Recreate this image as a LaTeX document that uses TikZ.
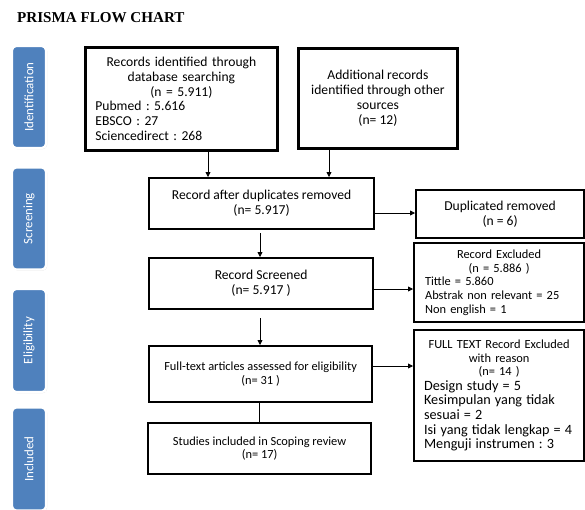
\documentclass[tikz,border=0pt]{standalone}
\usepackage{fontspec}
\setmainfont{Carlito}
\newfontfamily\titlefont{Liberation Serif}
\usetikzlibrary{arrows.meta,shadows}
\definecolor{barblue}{HTML}{4F81BD}
\frenchspacing
\begin{document}
\begin{tikzpicture}[x=1pt,y=-1pt,
  box/.style={draw=black, line width=2.2pt, rectangle, anchor=north west, inner sep=0pt, align=center},
  bodyf/.style={font=\frenchspacing\fontsize{13.6}{14.8}\selectfont},
  smallf/.style={font=\frenchspacing\fontsize{12.4}{13.6}\selectfont},
  bar/.style={rectangle, rounded corners=4pt, fill=barblue, draw=white, line width=2.4pt,
    rotate=90, minimum height=34pt, text=white, inner sep=0pt,
    font=\fontsize{12.9}{14}\selectfont,
    drop shadow={opacity=0.3, shadow xshift=1pt, shadow yshift=-1pt}},
  arr/.style={draw=black, line width=0.8pt, -{Triangle[length=5pt,width=5pt]}},
  ln/.style={draw=black, line width=0.8pt}
]
\useasboundingbox (0,0) rectangle (585,509);

% title
\node[anchor=west, inner sep=0pt, font=\titlefont\bfseries\fontsize{15.1}{16}\selectfont] (title) at (17,18) {PRISMA FLOW CHART};

% side bars
\node[bar, minimum width=102pt] (sid) at (29,97) {Identification};
\node[bar, minimum width=102pt] (sscr) at (29,218.5) {Screening};
\node[bar, minimum width=103pt] (selig) at (29,340.5) {Eligibility};
\node[bar, minimum width=103pt] (sincl) at (29,459) {Included};

% boxes
\node[box, line width=2.8pt, bodyf, minimum width=192pt, minimum height=103pt, text width=172pt, align=left] (ident) at (84,46)
  {{\centering Records identified through\\ database searching\\ (n = 5.911)\par}
   Pubmed : 5.616\\ EBSCO : 27\\ Sciencedirect : 268};
\node[box, line width=2.8pt, bodyf, minimum width=159pt, minimum height=100pt] (addl) at (297,47)
  {Additional records\\ identified through other\\ sources\\ (n= 12)};
\node[box, bodyf, minimum width=225pt, minimum height=51pt] (dup) at (148,177)
  {Record after duplicates removed\\ (n= 5.917)};
\node[box, bodyf, minimum width=168pt, minimum height=48pt] (duprem) at (415,189)
  {Duplicated removed\\ (n = 6)};
\node[box, bodyf, minimum width=224pt, minimum height=51pt] (scr) at (148,257)
  {Record Screened\\ (n= 5.917 )};
\node[box, smallf, minimum width=170pt, minimum height=79pt, text width=148pt, align=left] (exc) at (413,242)
  {{\centering Record Excluded\\ (n = 5.886 )\par}
   Tittle = 5.860\\ Abstrak non relevant = 25\\ Non english = 1};
\node[box, smallf, minimum width=223pt, minimum height=56pt] (full) at (148,345)
  {Full-text articles assessed for eligibility\\ (n= 31 )};
\node[box, smallf, minimum width=170pt, minimum height=131pt, text width=150pt, align=left] (ftexc) at (413,329)
  {{\centering FULL TEXT Record Excluded\\ with reason\\ (n= 14 )\par}
   {\fontsize{14.2}{14.6}\selectfont Design study = 5\\ Kesimpulan yang tidak\\ sesuai = 2\\ Isi yang tidak lengkap = 4\\ Menguji instrumen : 3\par}};
\node[box, smallf, minimum width=223pt, minimum height=51pt] (incl) at (147,422)
  {Studies included in Scoping review\\ (n= 17)};

% connectors
\draw[arr] (ident.south -| 208,0) -- (dup.north -| 208,0);
\draw[arr] (addl.south -| 329,0) -- (dup.north -| 329,0);
\coordinate (c1) at (260,233);
\draw[arr] (c1) -- (scr.north -| c1);
\coordinate (c2) at (260,318);
\draw[arr] (c2) -- (full.north -| c2);
\draw[ln] (full.south -| 259,0) -- (incl.north -| 259,0);
\draw[arr] (dup.east |- 0,213) -- (duprem.west |- 0,213);
\draw[arr] (scr.east |- 0,289) -- (exc.west |- 0,289);
\draw[arr] (full.east |- 0,366) -- (ftexc.west |- 0,366);
\end{tikzpicture}
\end{document}
